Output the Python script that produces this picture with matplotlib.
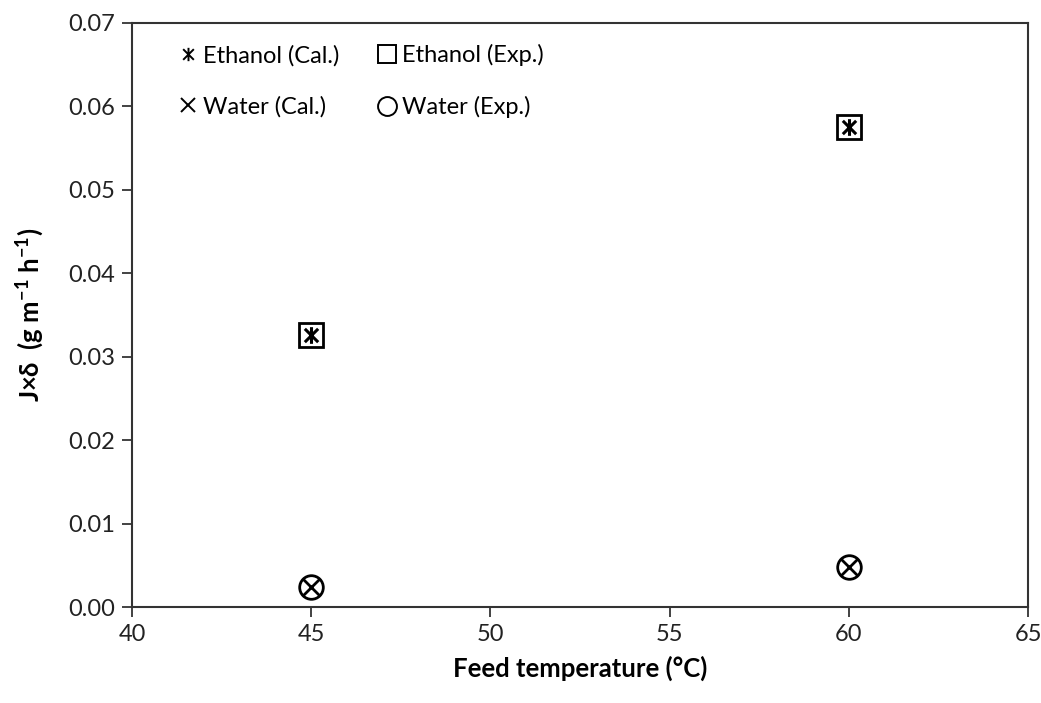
"""Jxdelta vs feed temperature, calculated vs experimental"""

import numpy as np
import matplotlib.pyplot as plt
from matplotlib.path import Path

temps = [45, 60]
ethanol_cal = [0.0326, 0.0575]
ethanol_exp = [0.0326, 0.0575]
water_cal = [0.0024, 0.0048]
water_exp = [0.0024, 0.0048]

plt.rcParams['font.family'] = ['Lato', 'DejaVu Sans']
plt.rcParams['mathtext.fontset'] = 'custom'
plt.rcParams['mathtext.bf'] = 'Lato:bold'
plt.rcParams['mathtext.rm'] = 'Lato'

# excel-like asterisk: an x with a vertical bar through it
star = Path([(-1, -1), (1, 1), (-1, 1), (1, -1), (0, -1.25), (0, 1.25)],
            [Path.MOVETO, Path.LINETO, Path.MOVETO, Path.LINETO,
             Path.MOVETO, Path.LINETO])

fig = plt.figure(figsize=(10.41, 7.03), dpi=100)
ax = fig.add_axes([132/1041, 1-607/703, (1028-132)/1041, (607-23)/703])

ax.plot(temps, ethanol_cal, ls='none', marker=star, ms=12, mew=2.2,
        color='black', label='Ethanol (Cal.)')
ax.plot(temps, water_cal, ls='none', marker='x', ms=12, mew=2,
        color='black', label='Water (Cal.)')
ax.plot(temps, ethanol_exp, ls='none', marker='s', ms=17, mew=2,
        mfc='none', color='black', label='Ethanol (Exp.)')
ax.plot(temps, water_exp, ls='none', marker='o', ms=17, mew=2,
        mfc='none', color='black', label='Water (Exp.)')

ax.set_xlim(40, 65)
ax.set_ylim(0, 0.07)
ax.set_xticks(np.arange(40, 66, 5))
ax.set_yticks(np.arange(0, 0.0701, 0.01))
ax.yaxis.set_major_formatter(plt.FormatStrFormatter('%.2f'))
ax.tick_params(direction='out', length=7, width=1.2, labelsize=17,
               colors='#222222', pad=5)
for s in ax.spines.values():
    s.set_linewidth(1.5)
    s.set_color('#333333')

ax.set_xlabel('Feed temperature (°C)', fontsize=18.5, fontweight='bold',
              labelpad=8)
ax.set_ylabel(r'J×δ  (g m$^{\mathbf{-1}}$ h$^{\mathbf{-1}}$)', fontsize=18.5,
              fontweight='bold', labelpad=16)

# legend markers drawn thinner, like text glyphs
leg = ax.legend(loc='upper left', ncol=2, frameon=False, fontsize=17,
                handlelength=0.8, handletextpad=0.25, columnspacing=1.6,
                labelspacing=1.25, markerscale=0.8,
                bbox_to_anchor=(0.028, 1.0))
for h in leg.legend_handles:
    h.set_markeredgewidth(1.4)

plt.savefig('out.png', dpi=100)
